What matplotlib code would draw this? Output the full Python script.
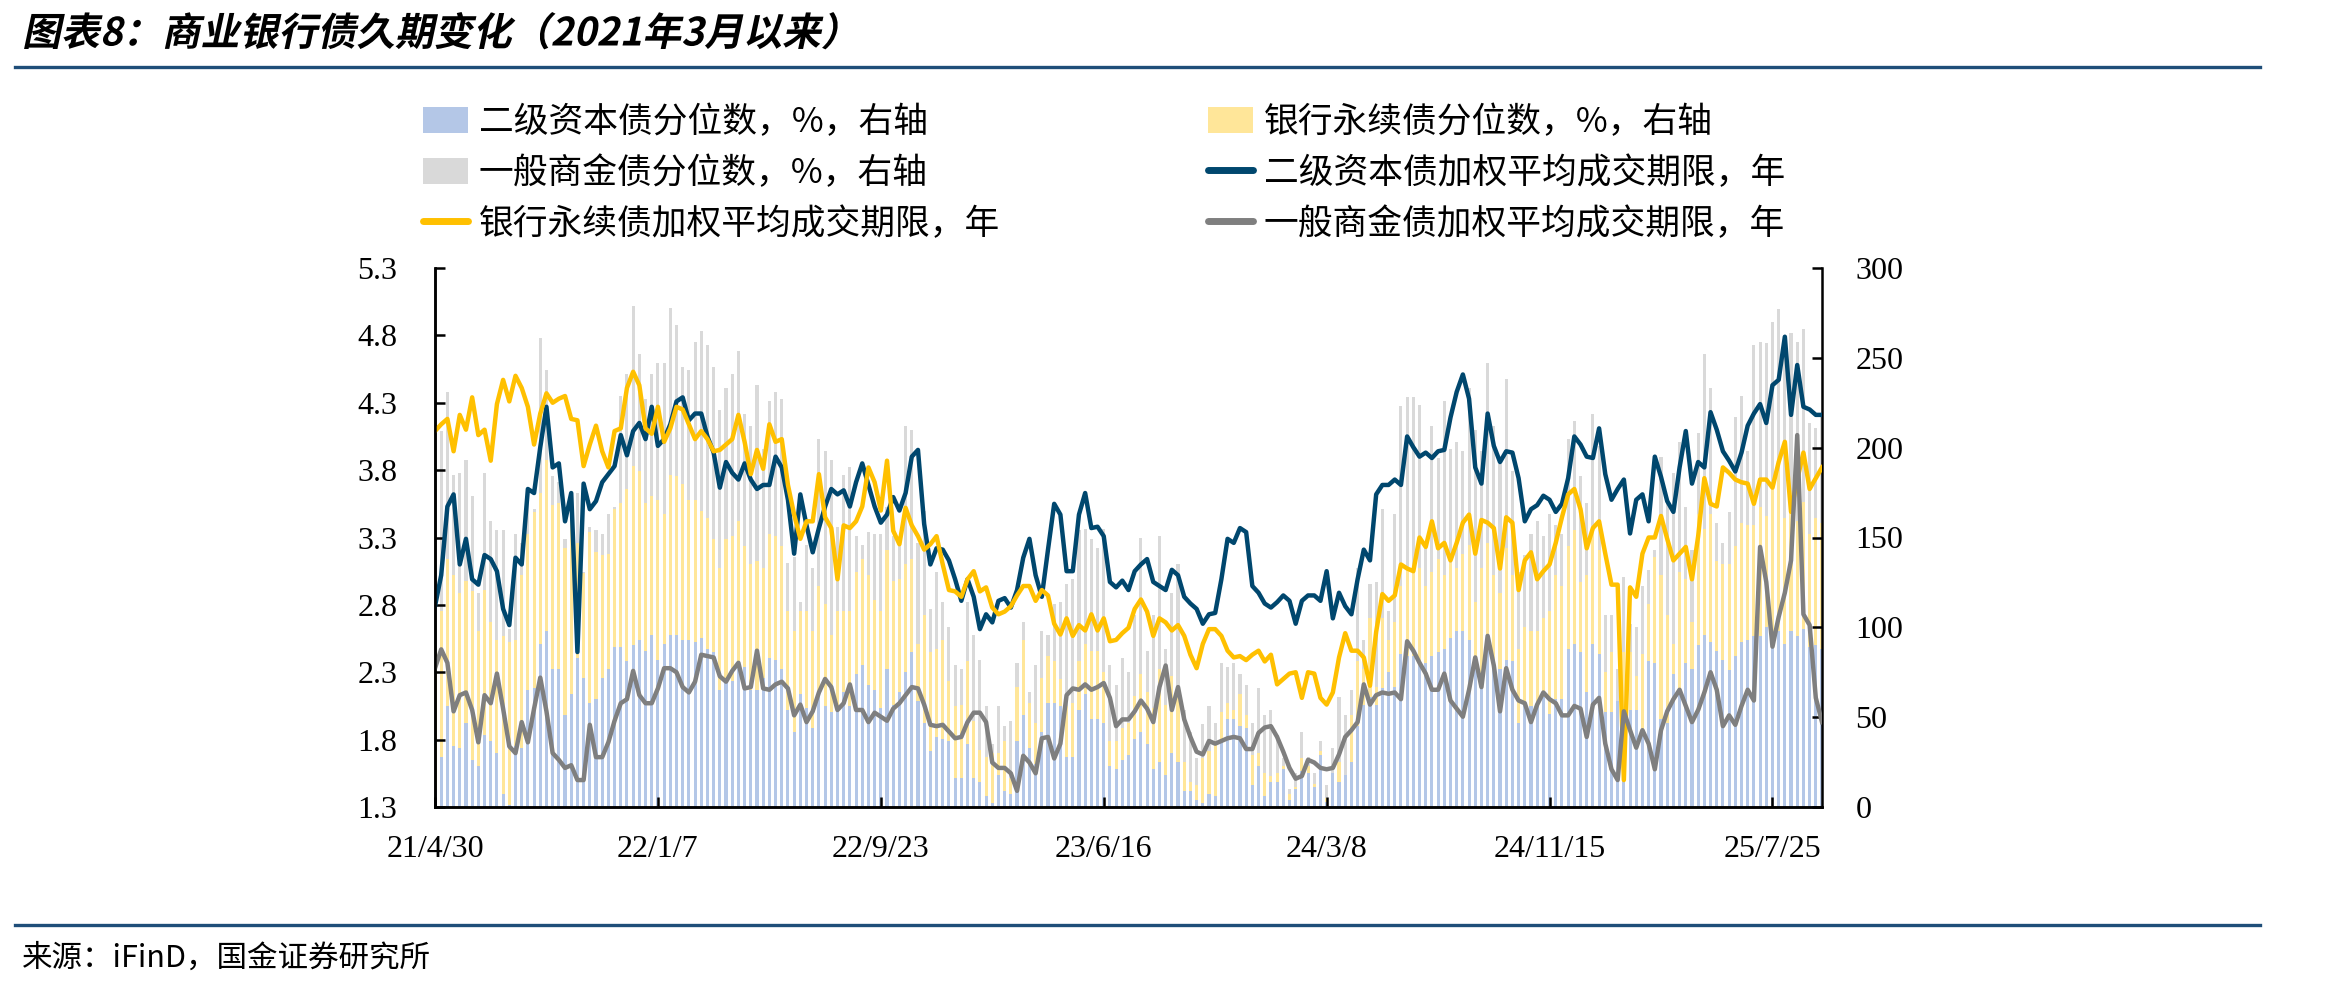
import matplotlib
matplotlib.use("Agg")
import matplotlib.pyplot as plt
import numpy as np
from matplotlib.lines import Line2D
from matplotlib.patches import Patch
from matplotlib.patheffects import AbstractPathEffect
from matplotlib.transforms import Affine2D

plt.rcParams['font.family'] = ['Noto Sans CJK SC', 'DejaVu Sans']

# weekly data, category axis (one label every 36 points)
tickLabels = ["21/4/30", "22/1/7", "22/9/23", "23/6/16", "24/3/8", "24/11/15", "25/7/25"]

# weighted average traded maturity, years (left axis)
tier2Dur = [2.79, 3.02, 3.53, 3.62, 3.10, 3.29, 2.99, 2.95, 3.17, 3.14, 3.05, 2.77, 2.65, 3.15, 3.10, 3.66, 3.63, 3.97, 4.27, 3.82,
            3.85, 3.42, 3.63, 2.45, 3.70, 3.51, 3.57, 3.71, 3.77, 3.83, 4.06, 3.91, 4.09, 4.15, 4.03, 4.27, 3.98, 4.03,
            4.14, 4.31, 4.34, 4.17, 4.22, 4.22, 4.05, 3.93, 3.67, 3.86, 3.78, 3.73, 3.85, 3.73, 3.66, 3.69, 3.69, 3.90, 3.82, 3.58,
            3.18, 3.62, 3.39, 3.19, 3.37, 3.53, 3.66, 3.62, 3.65, 3.53, 3.71, 3.85, 3.69, 3.53, 3.41, 3.47, 3.60, 3.50,
            3.63, 3.90, 3.95, 3.40, 3.10, 3.22, 3.21, 3.13, 2.99, 2.83, 2.99, 2.86, 2.62, 2.73, 2.67, 2.83, 2.85, 2.78, 2.91, 3.15,
            3.29, 3.02, 2.86, 3.21, 3.55, 3.47, 3.05, 3.05, 3.47, 3.63, 3.37, 3.38, 3.31, 2.97, 2.93, 2.98, 2.91, 3.05,
            3.10, 3.14, 2.97, 2.94, 2.91, 3.06, 3.02, 2.86, 2.81, 2.77, 2.66, 2.73, 2.74, 2.99, 3.29, 3.26, 3.37, 3.34, 2.94, 2.89,
            2.81, 2.78, 2.82, 2.87, 2.83, 2.66, 2.83, 2.87, 2.87, 2.83, 3.05, 2.70, 2.89, 2.79, 2.73, 2.99, 3.21, 3.13,
            3.62, 3.69, 3.69, 3.73, 3.69, 4.05, 3.97, 3.90, 3.93, 3.89, 3.94, 3.95, 4.19, 4.38, 4.51, 4.33, 3.82, 3.70, 4.22, 3.98,
            3.86, 3.94, 3.93, 3.74, 3.42, 3.51, 3.54, 3.61, 3.58, 3.49, 3.55, 3.74, 4.05, 3.99, 3.90, 3.89, 4.11, 3.77,
            3.58, 3.66, 3.73, 3.33, 3.58, 3.62, 3.42, 3.90, 3.75, 3.57, 3.49, 3.82, 4.09, 3.70, 3.86, 3.82, 4.23, 4.10, 3.94, 3.87,
            3.79, 3.93, 4.13, 4.22, 4.29, 4.15, 4.43, 4.47, 4.79, 4.21, 4.58, 4.27, 4.25, 4.21, 4.21]

perpDur = [4.09, 4.14, 4.18, 3.94, 4.21, 4.10, 4.34, 4.06, 4.10, 3.87, 4.29, 4.47, 4.31, 4.50, 4.41, 4.27, 3.99, 4.22, 4.37, 4.30,
           4.33, 4.35, 4.18, 4.17, 3.83, 3.99, 4.13, 3.94, 3.82, 4.09, 4.11, 4.41, 4.53, 4.43, 4.11, 4.07, 4.27, 4.01,
           4.11, 4.27, 4.25, 4.14, 4.03, 4.09, 4.03, 3.94, 3.95, 3.99, 4.03, 4.21, 4.01, 3.77, 3.95, 3.81, 4.14, 4.01, 4.03, 3.69,
           3.47, 3.29, 3.42, 3.42, 3.77, 3.45, 3.37, 2.99, 3.39, 3.37, 3.42, 3.53, 3.82, 3.71, 3.50, 3.87, 3.35, 3.25,
           3.52, 3.39, 3.31, 3.21, 3.25, 3.31, 3.10, 2.91, 2.90, 2.86, 2.99, 3.05, 2.90, 2.93, 2.78, 2.73, 2.75, 2.79, 2.87, 2.94,
           2.94, 2.83, 2.91, 2.87, 2.66, 2.58, 2.70, 2.57, 2.65, 2.61, 2.73, 2.61, 2.70, 2.53, 2.54, 2.59, 2.63, 2.77,
           2.84, 2.75, 2.57, 2.70, 2.67, 2.61, 2.65, 2.57, 2.43, 2.33, 2.51, 2.62, 2.62, 2.57, 2.46, 2.41, 2.42, 2.39, 2.43, 2.46,
           2.38, 2.43, 2.21, 2.25, 2.29, 2.30, 2.11, 2.30, 2.29, 2.11, 2.06, 2.15, 2.41, 2.59, 2.46, 2.46, 2.41, 2.20,
           2.60, 2.88, 2.83, 2.87, 3.10, 3.07, 3.05, 3.30, 3.23, 3.42, 3.22, 3.26, 3.13, 3.26, 3.41, 3.47, 3.18, 3.43, 3.41, 3.37,
           3.07, 3.45, 3.41, 2.91, 3.13, 3.19, 2.99, 3.05, 3.10, 3.26, 3.45, 3.62, 3.66, 3.51, 3.22, 3.37, 3.42, 3.18,
           2.95, 2.95, 1.50, 2.93, 2.86, 3.18, 3.30, 3.30, 3.46, 3.29, 3.13, 3.18, 3.23, 2.99, 3.31, 3.74, 3.55, 3.53, 3.82, 3.78,
           3.73, 3.71, 3.70, 3.55, 3.73, 3.73, 3.67, 3.86, 4.01, 3.49, 3.73, 3.93, 3.66, 3.74, 3.82]

genDur = [2.33, 2.47, 2.37, 2.01, 2.13, 2.15, 2.02, 1.78, 2.13, 2.07, 2.29, 2.03, 1.75, 1.70, 1.93, 1.78, 2.03, 2.26, 2.01, 1.70,
          1.65, 1.59, 1.61, 1.50, 1.50, 1.91, 1.67, 1.67, 1.78, 1.94, 2.07, 2.10, 2.31, 2.13, 2.07, 2.07, 2.18, 2.33,
          2.33, 2.30, 2.19, 2.15, 2.23, 2.43, 2.42, 2.41, 2.27, 2.23, 2.31, 2.37, 2.18, 2.19, 2.46, 2.18, 2.17, 2.21, 2.23, 2.18,
          1.98, 2.06, 1.93, 2.01, 2.15, 2.25, 2.19, 2.02, 2.07, 2.21, 2.02, 2.02, 1.93, 2.00, 1.97, 1.94, 2.03, 2.07,
          2.13, 2.19, 2.18, 2.06, 1.91, 1.90, 1.91, 1.86, 1.81, 1.82, 1.93, 2.00, 2.00, 1.93, 1.63, 1.59, 1.59, 1.55, 1.42, 1.68,
          1.63, 1.55, 1.81, 1.82, 1.66, 1.77, 2.13, 2.18, 2.17, 2.21, 2.17, 2.19, 2.22, 2.11, 1.90, 1.95, 1.95, 2.01,
          2.09, 2.03, 1.93, 2.19, 2.35, 2.02, 2.19, 1.95, 1.82, 1.71, 1.69, 1.79, 1.77, 1.79, 1.81, 1.82, 1.81, 1.73, 1.73, 1.85,
          1.89, 1.90, 1.82, 1.71, 1.59, 1.51, 1.53, 1.65, 1.63, 1.59, 1.58, 1.59, 1.69, 1.82, 1.87, 1.93, 2.21, 2.06,
          2.13, 2.15, 2.14, 2.15, 2.10, 2.53, 2.46, 2.37, 2.29, 2.17, 2.17, 2.29, 2.09, 2.03, 1.97, 2.17, 2.41, 2.19, 2.57, 2.35,
          2.01, 2.33, 2.17, 2.09, 2.07, 1.93, 2.06, 2.15, 2.10, 2.07, 1.98, 1.98, 2.05, 2.03, 1.82, 2.06, 2.11, 1.77,
          1.58, 1.50, 2.01, 1.87, 1.74, 1.87, 1.77, 1.58, 1.87, 2.01, 2.10, 2.17, 2.05, 1.93, 2.02, 2.15, 2.30, 2.17, 1.90, 1.98,
          1.91, 2.05, 2.17, 2.09, 3.23, 2.97, 2.49, 2.71, 2.89, 3.13, 4.06, 2.73, 2.65, 2.11, 1.93]

# percentiles, % (right axis, stacked)
tier2Pct = [10, 28, 56, 34, 33, 47, 26, 23, 40, 37, 30, 7, 1, 34, 33, 65, 66, 91, 98, 77,
            77, 51, 63, 83, 72, 58, 60, 72, 77, 89, 89, 81, 90, 93, 87, 96, 82, 91,
            96, 96, 93, 93, 92, 94, 88, 86, 65, 69, 70, 79, 78, 65, 65, 72, 83, 82, 77, 54,
            42, 63, 55, 44, 62, 56, 53, 55, 64, 56, 74, 79, 68, 65, 55, 77, 57, 64,
            75, 86, 59, 47, 31, 39, 38, 37, 16, 16, 35, 16, 14, 6, 2, 18, 9, 7, 37, 51,
            33, 24, 42, 58, 58, 56, 28, 28, 54, 63, 49, 49, 47, 23, 21, 26, 29, 38,
            42, 35, 21, 25, 18, 30, 25, 9, 9, 4, 2, 7, 6, 36, 49, 49, 45, 44, 12, 23,
            6, 14, 14, 21, 4, 10, 20, 19, 11, 29, 3, 19, 14, 18, 25, 45, 57, 61,
            57, 66, 75, 67, 85, 84, 84, 79, 80, 84, 86, 88, 94, 98, 98, 93, 82, 74, 94, 79,
            77, 82, 81, 47, 57, 56, 56, 61, 52, 60, 60, 88, 91, 86, 64, 91, 85, 53,
            53, 59, 54, 54, 54, 43, 81, 80, 49, 47, 74, 66, 80, 77, 90, 96, 92, 87, 82, 76,
            84, 92, 93, 95, 95, 100, 95, 98, 91, 98, 95, 99, 89, 90, 88]

perpPct = [77, 81, 82, 95, 86, 79, 94, 75, 81, 66, 63, 88, 91, 59, 96, 87, 98, 84, 95, 91,
           92, 93, 100, 64, 58, 95, 82, 68, 64, 77, 80, 96, 100, 94, 82, 77, 89, 72,
           89, 88, 87, 78, 79, 71, 73, 63, 68, 80, 81, 80, 67, 70, 72, 61, 69, 69, 68, 55,
           56, 46, 54, 54, 61, 57, 43, 54, 45, 53, 57, 59, 61, 50, 54, 66, 69, 63,
           60, 52, 32, 60, 55, 49, 55, 33, 40, 41, 46, 32, 18, 22, 28, 12, 28, 9, 30, 42,
           25, 23, 30, 26, 23, 15, 28, 30, 27, 28, 38, 38, 28, 14, 16, 18, 18, 24,
           32, 29, 34, 52, 39, 43, 42, 16, 5, 8, 25, 24, 31, 17, 9, 5, 18, 7, 17, 7,
           13, 3, 5, 2, 3, 1, 7, 4, 2, 2, 2, 0, 11, 0, 26, 36, 20, 44,
           10, 39, 18, 36, 38, 48, 49, 54, 43, 47, 52, 41, 42, 35, 43, 53, 32, 59, 53, 50,
           42, 62, 48, 41, 43, 42, 42, 44, 57, 69, 63, 57, 63, 39, 65, 62, 58, 22,
           33, 0, 32, 32, 19, 42, 32, 59, 80, 60, 17, 65, 47, 26, 73, 59, 71, 50, 53, 59,
           61, 66, 64, 62, 72, 62, 82, 89, 70, 72, 64, 71, 63, 71, 70]

genPct = [90, 100, 93, 56, 67, 67, 53, 21, 65, 56, 61, 59, 7, 59, 18, 25, 2, 86, 50, 16,
          12, 5, 6, 28, 1, 3, 12, 12, 22, 1, 60, 64, 89, 65, 58, 68, 76, 84,
          93, 84, 65, 72, 88, 100, 96, 96, 88, 84, 90, 95, 74, 77, 98, 66, 74, 80, 82, 27,
          41, 5, 37, 35, 82, 85, 97, 47, 76, 80, 20, 8, 24, 37, 43, 24, 25, 20,
          77, 72, 56, 58, 24, 43, 21, 30, 23, 20, 33, 48, 50, 28, 5, 26, 8, 32, 13, 10,
          6, 32, 26, 12, 32, 43, 68, 69, 73, 64, 62, 57, 80, 42, 31, 39, 28, 45,
          76, 23, 52, 74, 31, 46, 68, 29, 28, 15, 19, 25, 10, 27, 20, 26, 11, 17, 18, 36,
          32, 37, 21, 4, 3, 8, 15, 5, 6, 6, 7, 14, 36, 33, 14, 52, 16, 19,
          58, 61, 16, 60, 100, 96, 95, 91, 24, 81, 56, 97, 63, 70, 57, 87, 96, 65, 100, 83,
          72, 94, 58, 43, 40, 54, 61, 46, 54, 28, 29, 60, 61, 59, 40, 66, 58, 32,
          21, 18, 42, 16, 27, 38, 19, 4, 66, 62, 95, 72, 40, 40, 45, 97, 70, 21, 12, 29,
          72, 71, 41, 100, 92, 96, 93, 90, 99, 94, 100, 96, 62, 50, 60]


class Slant(AbstractPathEffect):
    # fake italic: shear glyph outlines around the text origin
    def __init__(self, angle=12):
        super().__init__()
        self.k = np.tan(np.radians(angle))

    def draw_path(self, renderer, gc, tpath, affine, rgbFace=None):
        m = affine.get_matrix()
        x0, y0 = m[0, 2], m[1, 2]
        shear = Affine2D(np.array([[1.0, self.k, 0], [0, 1.0, 0], [0, 0, 1.0]]))
        t = affine + Affine2D().translate(-x0, -y0) + shear + Affine2D().translate(x0, y0)
        renderer.draw_path(gc, tpath, t, rgbFace)


n = len(tier2Dur)
x = np.arange(n)
b1 = np.array(tier2Pct)
b2 = np.array(perpPct)
b3 = np.array(genPct)

W, H = 2346, 994
fig = plt.figure(figsize=(W / 100, H / 100), dpi=100)
ax = fig.add_axes([435 / W, 1 - 807 / H, (1822 - 435) / W, (807 - 268) / H])
ax2 = ax.twinx()

ax2.bar(x, b1, width=0.5, color="#B4C7E7", linewidth=0)
ax2.bar(x, b2, width=0.5, bottom=b1, color="#FFE699", linewidth=0)
ax2.bar(x, b3, width=0.5, bottom=b1 + b2, color="#D9D9D9", linewidth=0)

ax.plot(x, tier2Dur, color="#00476E", lw=3.2)
ax.plot(x, perpDur, color="#FFC000", lw=3.2)
ax.plot(x, genDur, color="#7F7F7F", lw=3.2)

ax.set_zorder(ax2.get_zorder() + 1)
ax.patch.set_visible(False)

ax.set_xlim(0, n - 1)
ax.set_ylim(1.3, 5.3)
ax2.set_ylim(0, 300)

serif = "Liberation Serif"
yt = np.arange(1.3, 5.31, 0.5)
ax.set_yticks(yt)
ax.set_yticklabels(["%.1f" % v for v in yt], fontfamily=serif, fontsize=23)
ax2.set_yticks(range(0, 301, 50))
ax2.set_yticklabels([str(v) for v in range(0, 301, 50)], fontfamily=serif, fontsize=23)
ax.set_xticks(range(0, 36 * len(tickLabels), 36))
ax.set_xticklabels(tickLabels, fontfamily=serif, fontsize=23)

ax.tick_params(axis="y", direction="in", length=7, width=1.8, pad=27)
ax2.tick_params(axis="y", direction="in", length=7, width=1.8, pad=24)
ax.tick_params(axis="x", direction="in", length=7, width=1.8, pad=20)

for a in (ax, ax2):
    a.spines["top"].set_visible(False)
    for s in ("left", "right", "bottom"):
        a.spines[s].set_linewidth(1.8)
ax.spines["right"].set_visible(False)

handles = [Patch(facecolor="#B4C7E7"), Patch(facecolor="#D9D9D9"),
           Line2D([], [], color="#FFC000", lw=5, solid_capstyle="round"),
           Patch(facecolor="#FFE699"),
           Line2D([], [], color="#00476E", lw=5, solid_capstyle="round"),
           Line2D([], [], color="#7F7F7F", lw=5, solid_capstyle="round")]
labels = ["二级资本债分位数，%，右轴", "一般商金债分位数，%，右轴", "银行永续债加权平均成交期限，年",
          "银行永续债分位数，%，右轴", "二级资本债加权平均成交期限，年", "一般商金债加权平均成交期限，年"]
fig.legend(handles, labels, loc="upper left", bbox_to_anchor=(423 / W, 1 - 105 / H), ncol=2,
           frameon=False, fontsize=25, handlelength=1.3, handleheight=0.8, handletextpad=0.3,
           labelspacing=0.46, columnspacing=6, borderpad=0, borderaxespad=0)

# title, rules and source note
fig.text(22 / W, 1 - 34 / H, "图表8：商业银行债久期变化（2021年3月以来）", fontsize=28,
         fontweight="bold", va="center", ha="left", path_effects=[Slant(12)])
fig.add_artist(Line2D([15 / W, 2260 / W], [1 - 67 / H] * 2, color="#1F4E79", lw=2.4))
fig.add_artist(Line2D([15 / W, 2260 / W], [1 - 925 / H] * 2, color="#1F4E79", lw=2.4))
fig.text(22 / W, 1 - 958 / H, "来源：iFinD，国金证券研究所", fontsize=22, va="center", ha="left")

plt.savefig("out.png", dpi=100)
